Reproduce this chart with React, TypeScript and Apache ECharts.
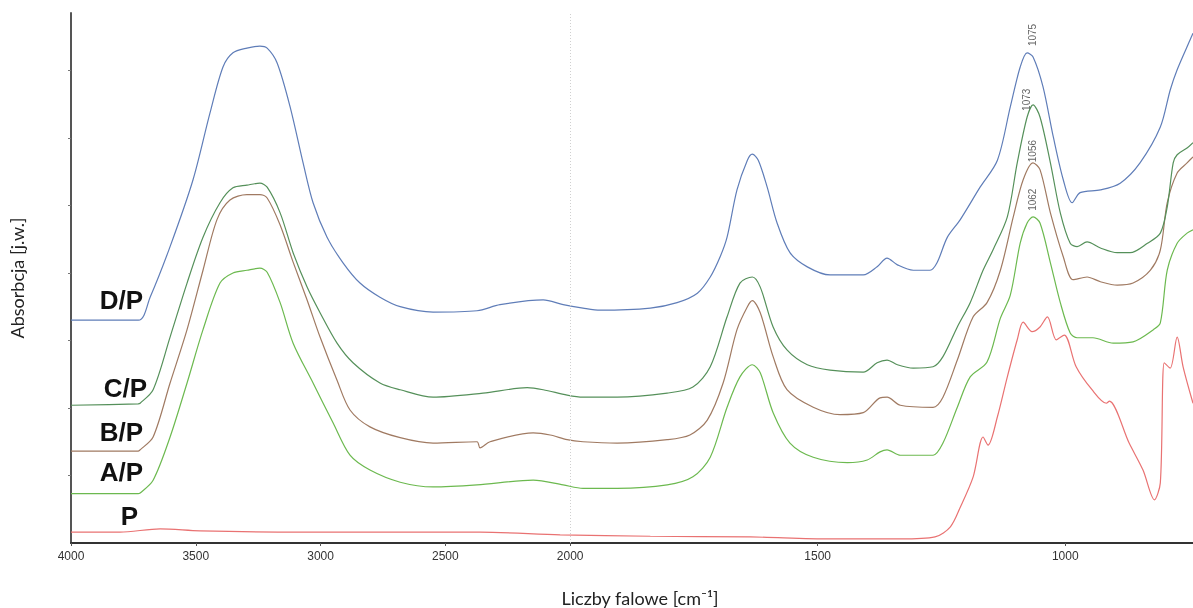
import React, { useEffect, useRef } from "react";
import * as echarts from "echarts";

// x tick labels (wavenumbers, cm-1)
const xTickLabels = [4000, 3500, 3000, 2500, 2000, 1500, 1000];

// D/P
const dpWave = [4000,3730,3683,3603,3511,3443,3391,3351,3295,3243,3214,3174,3122,3070,3030,2974,2910,2842,2762,2681,2549,2373,2281,2108,2028,1974,1939,1838,1784,1743,1717,1697,1683,1663,1642,1632,1620,1602,1582,1556,1521,1475,1408,1380,1360,1339,1307,1273,1259,1238,1212,1172,1137,1111,1091,1077,1065,1045,1024,1004,986,970,929,889,849,808,788,774,748,742];
const dpAbs = [3.30,3.30,3.64,4.39,5.38,6.37,7.05,7.26,7.33,7.36,7.33,7.11,6.46,5.63,5.04,4.53,4.15,3.85,3.64,3.50,3.42,3.44,3.53,3.60,3.53,3.48,3.45,3.48,3.56,3.70,3.94,4.24,4.53,5.23,5.67,5.76,5.67,5.27,4.74,4.30,4.09,3.97,3.97,4.09,4.22,4.12,4.04,4.04,4.15,4.53,4.79,5.27,5.67,6.46,7.05,7.26,7.20,6.76,6.01,5.38,5.04,5.19,5.23,5.33,5.63,6.16,6.71,7.01,7.45,7.55];

// C/P
const cpWave = [4000,3731,3723,3671,3603,3535,3471,3403,3351,3295,3243,3214,3162,3110,3054,3002,2934,2870,2762,2681,2549,2349,2172,2108,2012,1974,1905,1804,1752,1717,1683,1657,1632,1616,1590,1562,1521,1475,1408,1380,1360,1339,1307,1267,1247,1218,1192,1166,1146,1117,1097,1077,1065,1051,1030,1010,990,976,956,929,895,869,834,808,794,782,774,754,742];
const cpAbs = [2.04,2.06,2.07,2.27,3.05,3.85,4.53,5.04,5.26,5.30,5.33,5.27,4.89,4.30,3.79,3.41,2.96,2.67,2.37,2.27,2.16,2.22,2.30,2.27,2.19,2.16,2.16,2.22,2.31,2.61,3.35,3.85,3.94,3.79,3.20,2.86,2.64,2.56,2.53,2.67,2.71,2.64,2.59,2.61,2.76,3.20,3.56,4.04,4.34,4.83,5.63,6.31,6.49,6.31,5.63,4.89,4.44,4.39,4.46,4.37,4.30,4.30,4.44,4.59,4.98,5.63,5.75,5.85,5.93];

// B/P
const bpWave = [4000,3731,3723,3671,3603,3535,3471,3415,3363,3295,3243,3214,3162,3110,3054,3002,2934,2882,2802,2681,2549,2373,2361,2321,2148,2080,2012,1974,1905,1804,1758,1723,1691,1663,1642,1632,1616,1590,1562,1509,1455,1408,1374,1360,1333,1267,1247,1218,1186,1158,1131,1105,1085,1065,1051,1030,1004,984,956,929,895,863,828,808,794,774,754,742];
const bpAbs = [1.36,1.36,1.38,1.57,2.37,3.16,4.04,4.79,5.08,5.16,5.16,5.11,4.71,4.16,3.60,3.05,2.41,1.97,1.72,1.56,1.48,1.50,1.41,1.50,1.63,1.60,1.53,1.50,1.48,1.53,1.60,1.82,2.37,3.16,3.50,3.59,3.41,2.76,2.27,2.01,1.90,1.93,2.15,2.16,2.04,2.01,2.16,2.71,3.35,3.56,4.04,4.83,5.38,5.63,5.53,4.89,4.24,3.90,3.94,3.87,3.82,3.85,4.04,4.34,5.04,5.48,5.63,5.72];

// A/P
const apWave = [4000,3731,3723,3671,3603,3535,3471,3403,3351,3295,3243,3214,3162,3110,3030,2950,2882,2802,2681,2549,2373,2148,2028,1974,1905,1804,1752,1717,1683,1657,1632,1616,1590,1556,1509,1440,1400,1374,1360,1333,1267,1247,1218,1192,1158,1131,1111,1091,1077,1065,1051,1030,1010,990,976,944,903,863,822,808,794,774,754,742];
const apAbs = [0.73,0.73,0.74,0.93,1.57,2.37,3.16,3.85,4.00,4.04,4.07,4.01,3.56,2.96,2.37,1.78,1.30,1.08,0.90,0.83,0.86,0.93,0.86,0.81,0.81,0.86,0.98,1.27,2.01,2.46,2.64,2.52,1.93,1.48,1.27,1.19,1.23,1.35,1.38,1.30,1.30,1.48,2.01,2.46,2.68,3.33,3.67,4.44,4.74,4.83,4.74,4.15,3.56,3.11,3.04,3.04,2.96,2.98,3.16,3.26,4.04,4.44,4.59,4.64];

// P
const pWave = [4000,3804,3643,3483,3082,2681,2361,2040,1838,1636,1475,1333,1263,1232,1212,1186,1166,1156,1137,1117,1097,1085,1067,1051,1036,1018,1002,978,946,917,911,871,843,820,808,800,788,774,762,742];
const pAbs = [0.16,0.16,0.21,0.18,0.16,0.16,0.16,0.12,0.10,0.09,0.06,0.06,0.09,0.24,0.53,0.98,1.57,1.45,1.87,2.46,3.01,3.27,3.13,3.20,3.35,3.01,3.08,2.61,2.27,2.07,2.10,1.48,1.08,0.64,0.89,2.67,2.59,3.05,2.61,2.07];

// Peak annotations: text, wavenumber and absorbance of the label's base
const peakTexts = ["1075", "1073", "1056", "1062"];
const peakWave = [1067, 1079, 1067, 1067];
const peakAbs = [7.36, 6.40, 5.64, 4.92];

// Sample labels
const sampleNames = ["D/P", "C/P", "B/P", "A/P", "P"];

// Piecewise wavenumber scale: 4000-2000 compressed 2x
const toU = (w: number) => (w >= 2000 ? (4000 - w) / 2 : 1000 + (2000 - w) * 0.992);
const xTickValues = xTickLabels.map(toU);

export default function App() {
  const ref = useRef<HTMLDivElement>(null);
  useEffect(() => {
    const chart = echarts.init(ref.current!, null, { renderer: "svg" });
    const mk = (name: string, waves: number[], abs: number[], color: string, extra: any = {}) => ({
      type: "line",
      name,
      data: waves.map((w, i) => [toU(w), abs[i]]),
      showSymbol: false,
      symbol: "none",
      smooth: 0.3,
      silent: true,
      lineStyle: { color, width: 1.2 },
      itemStyle: { color },
      ...extra,
    });
    chart.setOption({
      animation: false,
      grid: { left: 71, right: 0, top: 13, bottom: 65, containLabel: false, outerBoundsMode: "none" },
      xAxis: {
        type: "value",
        min: 0,
        max: toU(742),
        axisLine: { show: true, lineStyle: { color: "#333", width: 2 } },
        axisTick: { show: true, customValues: xTickValues, length: 3, lineStyle: { color: "#555" } },
        axisLabel: {
          customValues: xTickValues,
          formatter: (v: number) => {
            const i = xTickValues.findIndex((t) => Math.abs(t - v) < 1e-6);
            return i >= 0 ? String(xTickLabels[i]) : "";
          },
          color: "#333",
          fontSize: 12,
          margin: 7,
          fontFamily: "Liberation Sans, Arial, sans-serif",
        },
        splitLine: { show: false },
        name: "Liczby falowe [cm⁻¹]",
        nameLocation: "middle",
        nameGap: 46,
        nameTextStyle: { fontFamily: "Lato, sans-serif", fontSize: 18, color: "#222", padding: [0, 0, 0, 16] },
      },
      yAxis: {
        type: "value",
        min: 0,
        max: 7.85,
        interval: 1,
        axisLine: { show: true, lineStyle: { color: "#555", width: 2 } },
        axisTick: { show: true, length: 3, customValues: [1, 2, 3, 4, 5, 6, 7], lineStyle: { color: "#777" } },
        axisLabel: { show: false },
        splitLine: { show: false },
        name: "Absorbcja [j.w.]",
        nameLocation: "middle",
        nameGap: 45,
        nameTextStyle: { fontFamily: "Lato, sans-serif", fontSize: 18, color: "#222" },
      },
      series: [
        mk("P", pWave, pAbs, "#e97272", {
          markLine: {
            silent: true,
            symbol: ["none", "none"],
            label: { show: false },
            lineStyle: { color: "#d0d0d0", type: [1, 2], width: 1 },
            data: [{ xAxis: toU(2000) }],
          },
        }),
        mk("A/P", apWave, apAbs, "#6cb94f"),
        mk("B/P", bpWave, bpAbs, "#a07a62"),
        mk("C/P", cpWave, cpAbs, "#55905a"),
        mk("D/P", dpWave, dpAbs, "#5f7db8"),
      ],
    });

    const labelY = [300, 388, 432, 472, 516];
    const labelX = [143, 147, 143, 143, 138];
    const graphics: any[] = sampleNames.map((n, i) => ({
      type: "text",
      x: labelX[i],
      y: labelY[i],
      silent: true,
      style: {
        text: n,
        align: "right",
        verticalAlign: "middle",
        fontFamily: "Liberation Sans, Arial, sans-serif",
        fontWeight: "bold",
        fontSize: 26,
        fill: "#111",
      },
    }));
    peakTexts.forEach((t, i) => {
      const p = chart.convertToPixel({ gridIndex: 0 }, [toU(peakWave[i]), peakAbs[i]]) as number[];
      graphics.push({
        type: "text",
        x: p[0],
        y: p[1],
        rotation: Math.PI / 2,
        silent: true,
        style: {
          text: t,
          align: "left",
          verticalAlign: "middle",
          fontFamily: "Liberation Sans, Arial, sans-serif",
          fontSize: 10,
          fill: "#666",
        },
      });
    });
    chart.setOption({ graphic: graphics });
    return () => chart.dispose();
  }, []);
  return (
    <div
      ref={ref}
      style={{ position: "fixed", left: 0, top: 0, width: 1193, height: 608 }}
    />
  );
}
